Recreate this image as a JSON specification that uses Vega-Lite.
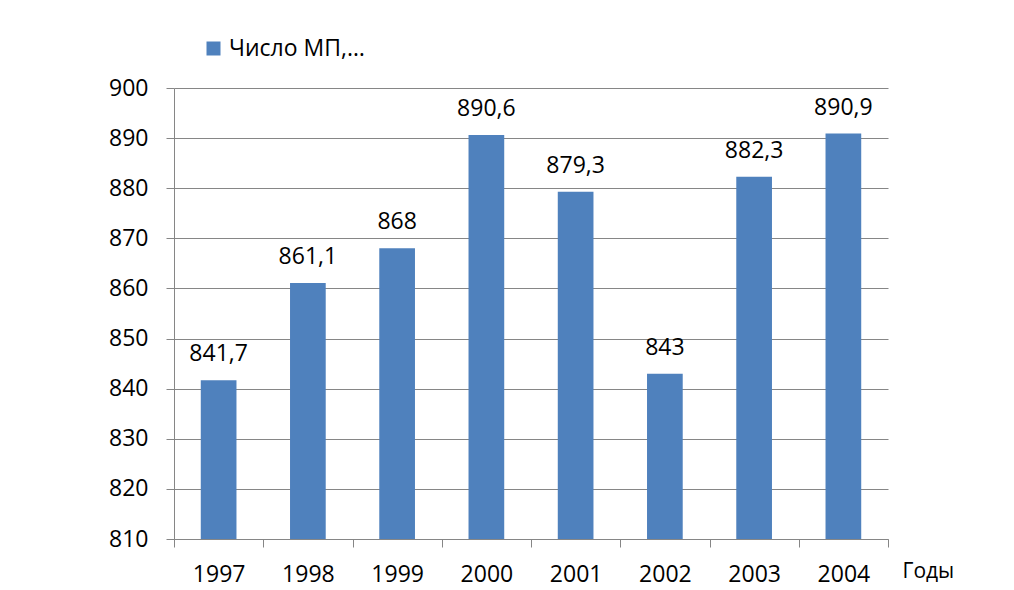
{
  "$schema": "https://vega.github.io/schema/vega-lite/v6.json",
  "width": 714,
  "height": 451,
  "autosize": {"type": "none"},
  "padding": {"left": 174, "top": 88, "right": 126, "bottom": 51},
  "background": "white",
  "config": {
    "font": "Open Sans",
    "view": {"stroke": null},
    "locale": {"number": {"decimal": ",", "thousands": " ", "grouping": [3], "currency": ["", ""]}}
  },
  "data": {
    "values": [
      {"year": "1997", "value": 841.7, "series": "Число МП,…"},
      {"year": "1998", "value": 861.1, "series": "Число МП,…"},
      {"year": "1999", "value": 868, "series": "Число МП,…"},
      {"year": "2000", "value": 890.6, "series": "Число МП,…"},
      {"year": "2001", "value": 879.3, "series": "Число МП,…"},
      {"year": "2002", "value": 843, "series": "Число МП,…"},
      {"year": "2003", "value": 882.3, "series": "Число МП,…"},
      {"year": "2004", "value": 890.9, "series": "Число МП,…"}
    ]
  },
  "encoding": {
    "x": {
      "field": "year",
      "type": "nominal",
      "scale": {"paddingInner": 0, "paddingOuter": 0},
      "axis": {
        "title": "Годы",
        "titleX": 728,
        "titleY": 38,
        "titleAlign": "left",
        "titleBaseline": "alphabetic",
        "titleFontSize": 21,
        "titleFontWeight": "normal",
        "titleColor": "#000000",
        "labelAngle": 0,
        "labelFontSize": 23,
        "labelColor": "#000000",
        "labelPadding": 16,
        "tickBand": "extent",
        "tickSize": 8,
        "tickColor": "#868686",
        "domainColor": "#868686",
        "grid": false
      }
    },
    "y": {
      "field": "value",
      "type": "quantitative",
      "scale": {"domain": [810, 900], "zero": false, "nice": false},
      "axis": {
        "title": null,
        "values": [810, 820, 830, 840, 850, 860, 870, 880, 890, 900],
        "labelFontSize": 23,
        "labelColor": "#000000",
        "labelPadding": 18,
        "tickSize": 8,
        "tickColor": "#868686",
        "domainColor": "#868686",
        "gridColor": "#868686",
        "grid": true
      }
    }
  },
  "layer": [
    {
      "mark": {"type": "bar", "color": "#4F81BD", "clip": true, "width": {"band": 0.4}},
      "encoding": {
        "color": {
          "field": "series",
          "type": "nominal",
          "scale": {"range": ["#4F81BD"]},
          "legend": {
            "title": null,
            "orient": "none",
            "legendX": 28,
            "legendY": -51,
            "padding": 0,
            "symbolType": "square",
            "symbolSize": 196,
            "symbolStrokeWidth": 0,
            "symbolOpacity": 1,
            "labelFontSize": 23,
            "labelColor": "#000000",
            "labelOffset": 4
          }
        }
      }
    },
    {
      "mark": {"type": "text", "baseline": "alphabetic", "dy": -19, "fontSize": 23, "color": "#000000"},
      "encoding": {
        "text": {"field": "value", "type": "quantitative", "format": ".1~f"}
      }
    }
  ]
}
